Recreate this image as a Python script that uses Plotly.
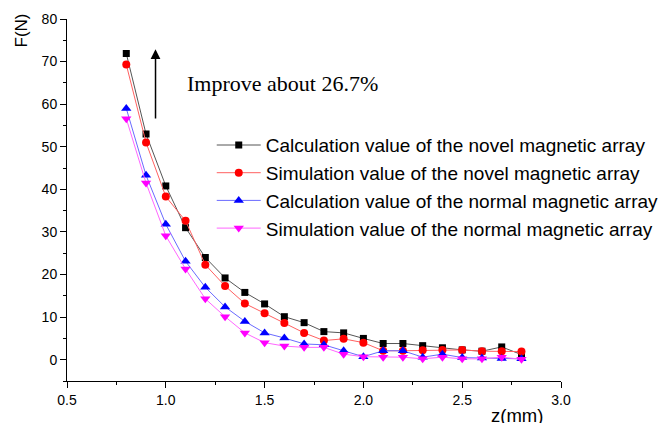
import plotly.graph_objects as go

z = [0.8, 0.9, 1.0, 1.1, 1.2, 1.3, 1.4, 1.5, 1.6, 1.7, 1.8, 1.9, 2.0,
     2.1, 2.2, 2.3, 2.4, 2.5, 2.6, 2.7, 2.8]

calc_novel = [71.9, 53.0, 40.8, 31.0, 24.0, 19.2, 15.8, 13.1, 10.1, 8.7, 6.6,
              6.3, 5.0, 3.8, 3.8, 3.3, 2.8, 2.3, 2.0, 3.0, 1.2]
sim_novel = [69.3, 51.0, 38.3, 32.6, 22.3, 17.3, 13.2, 10.9, 8.6, 6.3, 4.5,
             4.9, 4.0, 2.1, 2.1, 2.2, 2.3, 2.3, 2.0, 2.0, 1.9]
calc_normal = [59.0, 43.3, 31.8, 23.1, 17.0, 12.4, 9.0, 6.3, 5.1, 3.7, 3.5,
               2.1, 0.7, 2.1, 2.1, 0.6, 1.3, 0.5, 0.4, 0.3, 0.2]
sim_normal = [56.6, 41.5, 29.1, 21.3, 14.3, 10.1, 6.3, 4.0, 3.2, 2.9, 2.9,
              1.3, 0.7, 0.6, 0.6, 0.2, 0.6, 0.2, 0.2, 0.6, 0.1]

names = ["Calculation value of the novel magnetic array",
         "Simulation value of the novel magnetic array",
         "Calculation value of the normal magnetic array",
         "Simulation value of the normal magnetic array"]
series = [calc_novel, sim_novel, calc_normal, sim_normal]
colors = ["#000000", "#ff0000", "#0000ff", "#ff00ff"]
line_colors = ["#555555", "#ff6060", "#6a6aff", "#ff66ff"]
symbols = ["square", "circle", "triangle-up", "triangle-down"]
sizes = [7, 8, 9, 9]

annot_text = "Improve about 26.7%"

fig = go.Figure()
for name, vals, c, lc, s, sz in zip(names, series, colors, line_colors, symbols, sizes):
    fig.add_trace(go.Scatter(
        x=z, y=vals, name=name, mode="lines+markers",
        line=dict(color=lc, width=1),
        marker=dict(color=c, symbol=s, size=sz, line=dict(width=0)),
    ))

axis_font = dict(family="Liberation Sans, Arial, sans-serif", size=14, color="black")

fig.update_layout(
    width=670, height=423,
    margin=dict(l=67, r=109, t=19, b=42, autoexpand=False),
    paper_bgcolor="white", plot_bgcolor="white",
    font=dict(family="Liberation Sans, Arial, sans-serif", color="black"),
    xaxis=dict(range=[0.5, 3.0], tick0=0.5, dtick=0.5, tickformat=".1f",
               showline=True, linecolor="black", linewidth=1,
               ticks="outside", ticklen=6, tickcolor="black",
               showgrid=False, zeroline=False, tickfont=axis_font,
               minor=dict(dtick=0.25, ticks="outside", ticklen=3, tickcolor="black", showgrid=False)),
    yaxis=dict(range=[-5, 80], tick0=0, dtick=10,
               showline=True, linecolor="black", linewidth=1,
               ticks="outside", ticklen=6, tickcolor="black",
               showgrid=False, zeroline=False, tickfont=axis_font,
               minor=dict(dtick=5, tick0=0, ticks="outside", ticklen=3, tickcolor="black", showgrid=False)),
    legend=dict(x=0.293, y=0.704, xanchor="left", yanchor="top",
                bgcolor="rgba(0,0,0,0)", borderwidth=0,
                font=dict(family="Liberation Sans, Arial, sans-serif", size=19, color="black"),
                itemwidth=44, tracegroupgap=0),
    showlegend=True,
)

fig.add_annotation(text="F(N)", xref="paper", yref="paper", x=-0.092, y=0.967,
                   textangle=-90, showarrow=False, xanchor="center", yanchor="middle",
                   font=dict(family="Liberation Sans, Arial, sans-serif", size=17, color="black"))
fig.add_annotation(text="z(mm)", xref="paper", yref="paper", x=0.91, y=-0.095,
                   showarrow=False, xanchor="center", yanchor="middle",
                   font=dict(family="Liberation Sans, Arial, sans-serif", size=18.5, color="black"))
fig.add_annotation(text=annot_text, xref="x", yref="y", x=1.097, y=64.8,
                   showarrow=False, xanchor="left", yanchor="middle",
                   font=dict(family="Liberation Serif, Times New Roman, serif", size=22, color="black"))
fig.add_annotation(text="", xref="x", yref="y", x=0.948, y=72.9,
                   axref="x", ayref="y", ax=0.948, ay=56.3,
                   showarrow=True, arrowhead=2, arrowsize=1.3, arrowwidth=1.5,
                   arrowcolor="black")

fig.write_html("out.html")
